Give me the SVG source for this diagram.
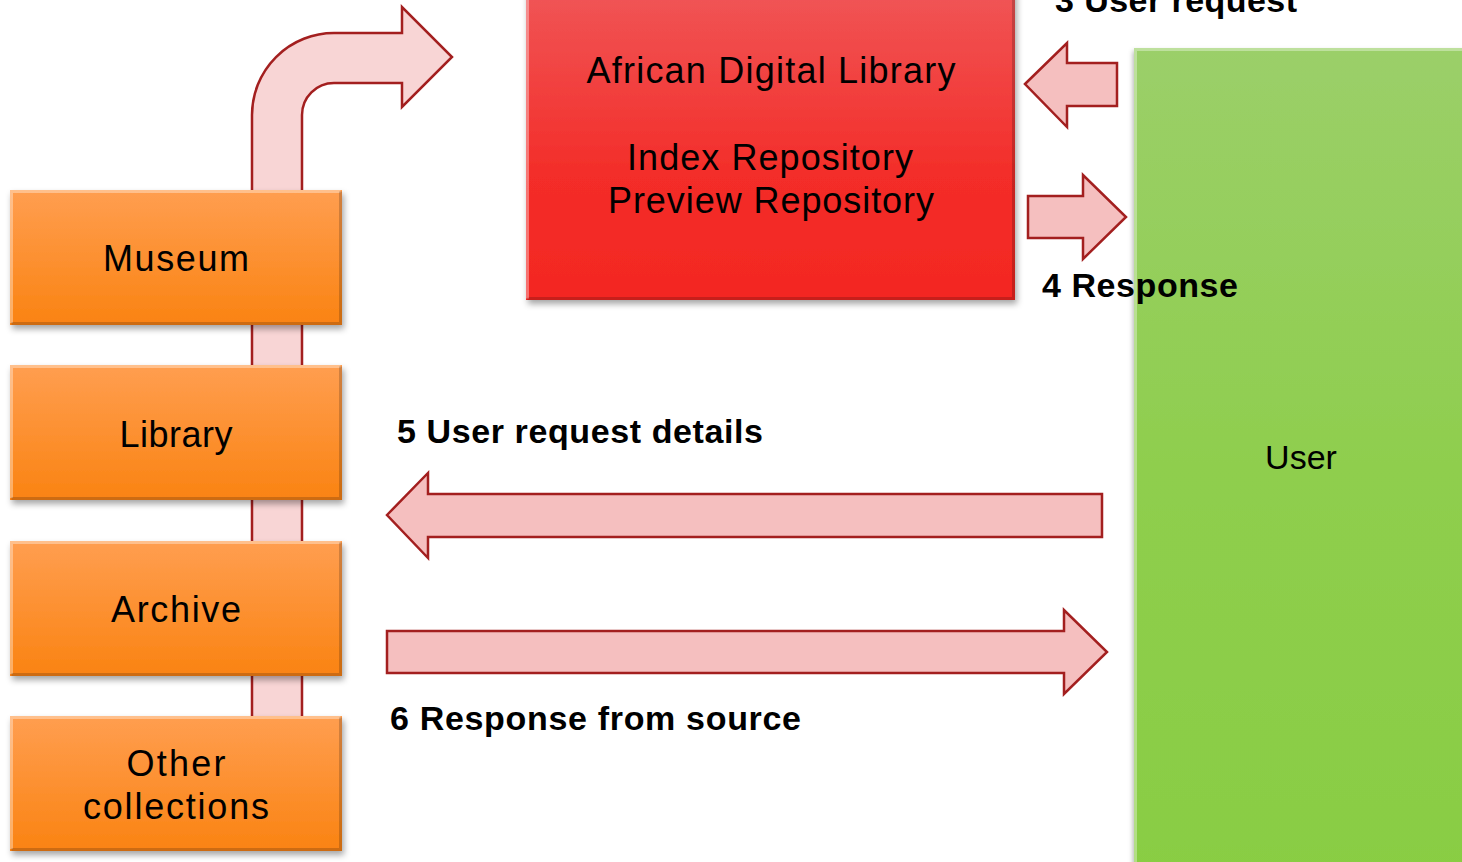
<svg xmlns="http://www.w3.org/2000/svg" width="1462" height="862" viewBox="0 0 1462 862">
<defs>
<linearGradient id="gOr" x1="0" y1="0" x2="0" y2="1">
<stop offset="0" stop-color="#FF9E50"/><stop offset="1" stop-color="#FA8312"/>
</linearGradient>
<linearGradient id="gRed" x1="0" y1="0" x2="0" y2="1">
<stop offset="0" stop-color="#F05657"/><stop offset="0.6" stop-color="#F32D29"/><stop offset="1" stop-color="#F32722"/>
</linearGradient>
<linearGradient id="gGr" x1="0" y1="0" x2="0" y2="1">
<stop offset="0" stop-color="#9BCF69"/><stop offset="0.5" stop-color="#8FCE4E"/><stop offset="1" stop-color="#89CD43"/>
</linearGradient>
<filter id="sh" x="-10%" y="-10%" width="120%" height="130%">
<feDropShadow dx="2" dy="4" stdDeviation="3" flood-color="#000" flood-opacity="0.35"/>
</filter>
<filter id="shg" x="-10%" y="-10%" width="120%" height="130%">
<feDropShadow dx="-1" dy="3" stdDeviation="2.5" flood-color="#000" flood-opacity="0.3"/>
</filter>
<style>
.arr{fill:#F5BFBF;stroke:#A31F1F;stroke-width:2.5;stroke-linejoin:miter}
.bent{fill:#F8D5D5;stroke:#A31F1F;stroke-width:2.5}
.box{filter:url(#sh)}
.t{font-family:"Liberation Sans",Arial,sans-serif;font-size:36px;fill:#000;text-anchor:middle}
.b{font-family:"Liberation Sans",Arial,sans-serif;font-size:34px;font-weight:bold;fill:#000}
.hi{fill:none;stroke:#FFFFFF;stroke-opacity:0.35;stroke-width:3}
.lo{fill:none;stroke:#000;stroke-opacity:0.18;stroke-width:3}
</style>
</defs>
<rect width="1462" height="862" fill="#FFFFFF"/>

<g id="connectors">
<path id="bent-arrow" class="bent" d="M252,740 L252,115 A82,82 0 0 1 334,33 L402,33 L402,7 L452,57 L402,107 L402,83 L334,83 A32,32 0 0 0 302,115 L302,740 Z"/>
<path id="arrow-3" class="arr" d="M1025,84 L1067,43 L1067,63 L1117,63 L1117,106 L1067,106 L1067,127 Z"/>
<path id="arrow-4" class="arr" d="M1028,196 L1083,196 L1083,175 L1126,217 L1083,259 L1083,238 L1028,238 Z"/>
<path id="arrow-5" class="arr" d="M387,515 L428,473 L428,494 L1102,494 L1102,537 L428,537 L428,558 Z"/>
<path id="arrow-6" class="arr" d="M387,631 L1064,631 L1064,610 L1107,652 L1064,694 L1064,673 L387,673 Z"/>
</g>

<g id="node-adl">
<rect class="box" x="526" y="-12" width="489" height="312" fill="url(#gRed)"/>
<path class="lo" d="M527.5,298.5 L1013.5,298.5 L1013.5,-12"/>
<path class="hi" d="M527.5,298.5 L527.5,-12"/>
<text class="t" x="771" y="83" textLength="369">African Digital Library</text>
<text class="t" x="770" y="170" textLength="286">Index Repository</text>
<text class="t" x="771" y="213" textLength="326">Preview Repository</text>
</g>

<g id="node-user">
<rect x="1134" y="48" width="340" height="830" fill="url(#gGr)" filter="url(#shg)"/>
<path class="hi" d="M1135.5,870 L1135.5,49.5 L1470,49.5"/>
<text class="t" x="1301" y="469" style="font-size:34px">User</text>
</g>

<g id="node-museum">
<rect class="box" x="10" y="190" width="332" height="135" fill="url(#gOr)"/>
<path class="hi" d="M11.5,323 L11.5,191.5 L340.5,191.5"/>
<path class="lo" d="M11.5,323.5 L340.5,323.5 L340.5,191.5"/>
<text class="t" x="176" y="271" textLength="146">Museum</text>
</g>

<g id="node-library">
<rect class="box" x="10" y="365" width="332" height="135" fill="url(#gOr)"/>
<path class="hi" d="M11.5,498 L11.5,366.5 L340.5,366.5"/>
<path class="lo" d="M11.5,498.5 L340.5,498.5 L340.5,366.5"/>
<text class="t" x="176" y="447" textLength="113">Library</text>
</g>

<g id="node-archive">
<rect class="box" x="10" y="541" width="332" height="135" fill="url(#gOr)"/>
<path class="hi" d="M11.5,674 L11.5,542.5 L340.5,542.5"/>
<path class="lo" d="M11.5,674.5 L340.5,674.5 L340.5,542.5"/>
<text class="t" x="176" y="622" textLength="130">Archive</text>
</g>

<g id="node-other">
<rect class="box" x="10" y="716" width="332" height="135" fill="url(#gOr)"/>
<path class="hi" d="M11.5,849 L11.5,717.5 L340.5,717.5"/>
<path class="lo" d="M11.5,849.5 L340.5,849.5 L340.5,717.5"/>
<text class="t" x="176" y="776" textLength="99">Other</text>
<text class="t" x="176" y="819" textLength="186">collections</text>
</g>

<g id="labels">
<text class="b" x="1055" y="12" textLength="242">3 User request</text>
<text class="b" x="1042" y="297" textLength="196">4 Response</text>
<text class="b" x="397" y="443" textLength="366">5 User request details</text>
<text class="b" x="390" y="730" textLength="411">6 Response from source</text>
</g>
</svg>
